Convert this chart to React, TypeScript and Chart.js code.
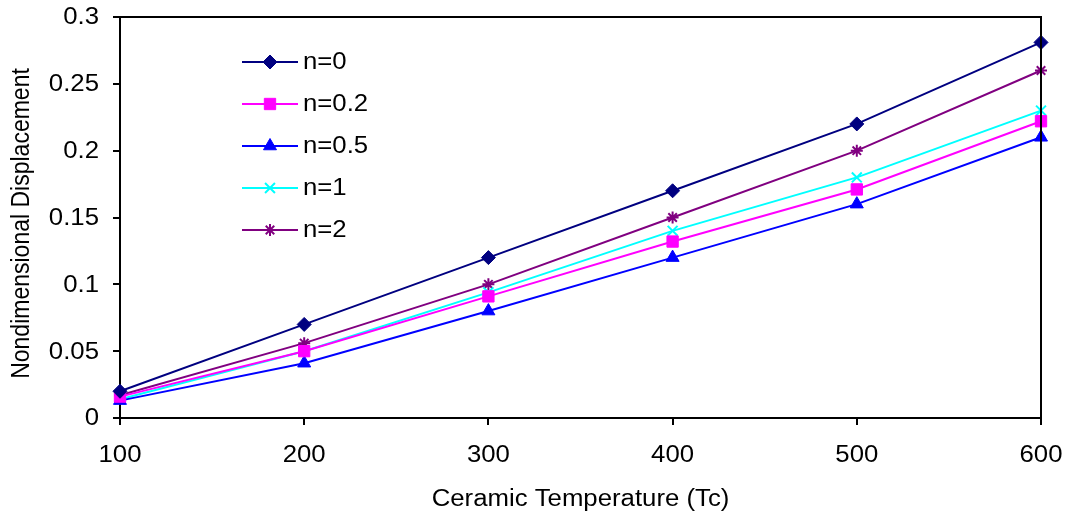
import React, { useEffect, useRef } from "react";
import { Chart, registerables } from "chart.js";
import { drawPoint } from "chart.js/helpers";

Chart.register(...registerables);

const temperatures = [100, 200, 300, 400, 500, 600];
const n0 = [0.02, 0.07, 0.12, 0.17, 0.22, 0.281];
const n02 = [0.016, 0.05, 0.091, 0.132, 0.171, 0.222];
const n05 = [0.013, 0.041, 0.08, 0.12, 0.16, 0.21];
const n1 = [0.014, 0.05, 0.094, 0.14, 0.18, 0.23];
const n2 = [0.017, 0.056, 0.1, 0.15, 0.2, 0.26];
const seriesLabels = ["n=0", "n=0.2", "n=0.5", "n=1", "n=2"];
const seriesValues = [n0, n02, n05, n1, n2];
const seriesColors = ["#000080", "#FF00FF", "#0000FF", "#00FFFF", "#800080"];
const seriesMarkers = ["rectRot", "rect", "triangle", "crossRot", "star"];
const seriesRadius = [7, 8, 7.5, 7, 6];
const xTickLabels = ["100", "200", "300", "400", "500", "600"];
const yTickLabels = ["0", "0.05", "0.1", "0.15", "0.2", "0.25", "0.3"];
const xTitle = "Ceramic Temperature (Tc)";
const yTitle = "Nondimensional Displacement";

const FONT = "'Liberation Sans', Arial, sans-serif";
const FONT_SIZE = 23;
const STRETCH = 1.12;

function stretchedText(ctx: any, text: string, x: number, y: number, align: string, rotate = 0) {
  ctx.save();
  ctx.translate(x, y);
  ctx.scale(STRETCH, 1);
  if (rotate) ctx.rotate(rotate);
  ctx.textAlign = align;
  ctx.textBaseline = "middle";
  ctx.fillText(text, 0, 0);
  ctx.restore();
}

const framePlugin = {
  id: "frame",
  afterDraw(chart: any) {
    const { ctx, chartArea } = chart;
    ctx.save();
    ctx.strokeStyle = "#000";
    ctx.lineWidth = 2;
    ctx.beginPath();
    ctx.moveTo(chartArea.left, chartArea.top);
    ctx.lineTo(chartArea.right, chartArea.top);
    ctx.lineTo(chartArea.right, chartArea.bottom);
    ctx.stroke();
    ctx.restore();
  },
};

const textPlugin = {
  id: "axisText",
  afterDraw(chart: any) {
    const { ctx, chartArea, scales } = chart;
    ctx.save();
    ctx.fillStyle = "#000";
    ctx.font = `${FONT_SIZE}px ${FONT}`;
    yTickLabels.forEach((t) => {
      const y = scales.y.getPixelForValue(Number(t));
      stretchedText(ctx, t, chartArea.left - 21, y + 1, "right");
    });
    xTickLabels.forEach((t) => {
      const x = scales.x.getPixelForValue(Number(t));
      stretchedText(ctx, t, x, chartArea.bottom + 38, "center");
    });
    stretchedText(ctx, xTitle, (chartArea.left + chartArea.right) / 2, chartArea.bottom + 82, "center");
    stretchedText(ctx, yTitle, 22, (chartArea.top + chartArea.bottom) / 2 + 6, "center", -Math.PI / 2);
    ctx.restore();
  },
};

const legendPlugin = {
  id: "innerLegend",
  afterDraw(chart: any) {
    const { ctx, chartArea } = chart;
    const x0 = chartArea.left + 122;
    const lineLen = 56;
    const y0 = chartArea.top + 45;
    const step = 42;
    ctx.save();
    chart.data.datasets.forEach((ds: any, i: number) => {
      const y = y0 + i * step;
      ctx.strokeStyle = ds.borderColor;
      ctx.lineWidth = 2;
      ctx.beginPath();
      ctx.moveTo(x0, y);
      ctx.lineTo(x0 + lineLen, y);
      ctx.stroke();
      ctx.fillStyle = ds.pointBackgroundColor;
      ctx.strokeStyle = ds.pointBorderColor;
      ctx.lineWidth = ds.pointBorderWidth;
      drawPoint(ctx, { pointStyle: ds.pointStyle, radius: ds.pointRadius, borderWidth: ds.pointBorderWidth, rotation: 0 }, x0 + lineLen / 2, y);
      ctx.fillStyle = "#000";
      ctx.font = `${FONT_SIZE}px ${FONT}`;
      stretchedText(ctx, ds.label, x0 + lineLen + 5, y + 1, "left");
    });
    ctx.restore();
  },
};

export default function App() {
  const ref = useRef<HTMLCanvasElement>(null);
  useEffect(() => {
    document.body.style.margin = "0";
    const datasets = seriesLabels.map((label, i) => ({
      label,
      data: temperatures.map((t, j) => ({ x: t, y: seriesValues[i][j] })),
      borderColor: seriesColors[i],
      backgroundColor: seriesColors[i],
      pointBackgroundColor: seriesColors[i],
      pointBorderColor: seriesColors[i],
      pointBorderWidth: seriesMarkers[i] === "crossRot" || seriesMarkers[i] === "star" ? 2 : 1,
      borderWidth: 2,
      pointStyle: seriesMarkers[i],
      pointRadius: seriesRadius[i],
      pointHoverRadius: seriesRadius[i],
      tension: 0,
      clip: false as any,
    }));
    const chart = new Chart(ref.current!, {
      type: "line",
      data: { datasets },
      plugins: [framePlugin, textPlugin, legendPlugin],
      options: {
        animation: false,
        responsive: false,
        layout: { padding: { top: 17, right: 28, left: 0, bottom: 0 } },
        plugins: { legend: { display: false }, tooltip: { enabled: false } },
        scales: {
          x: {
            type: "linear",
            min: 100,
            max: 600,
            afterFit: (s: any) => {
              s.height = 102;
            },
            ticks: { stepSize: 100, display: false },
            grid: { drawOnChartArea: false, drawTicks: true, tickLength: 7, color: "#000", lineWidth: 2 },
            border: { display: true, color: "#000", width: 2 },
          },
          y: {
            min: 0,
            max: 0.3,
            afterFit: (s: any) => {
              s.width = 120;
            },
            ticks: { stepSize: 0.05, display: false },
            grid: { drawOnChartArea: false, drawTicks: true, tickLength: 7, color: "#000", lineWidth: 2 },
            border: { display: true, color: "#000", width: 2 },
          },
        },
      },
    } as any);
    return () => chart.destroy();
  }, []);
  return <canvas ref={ref} width={1069} height={520} style={{ display: "block" }} />;
}
